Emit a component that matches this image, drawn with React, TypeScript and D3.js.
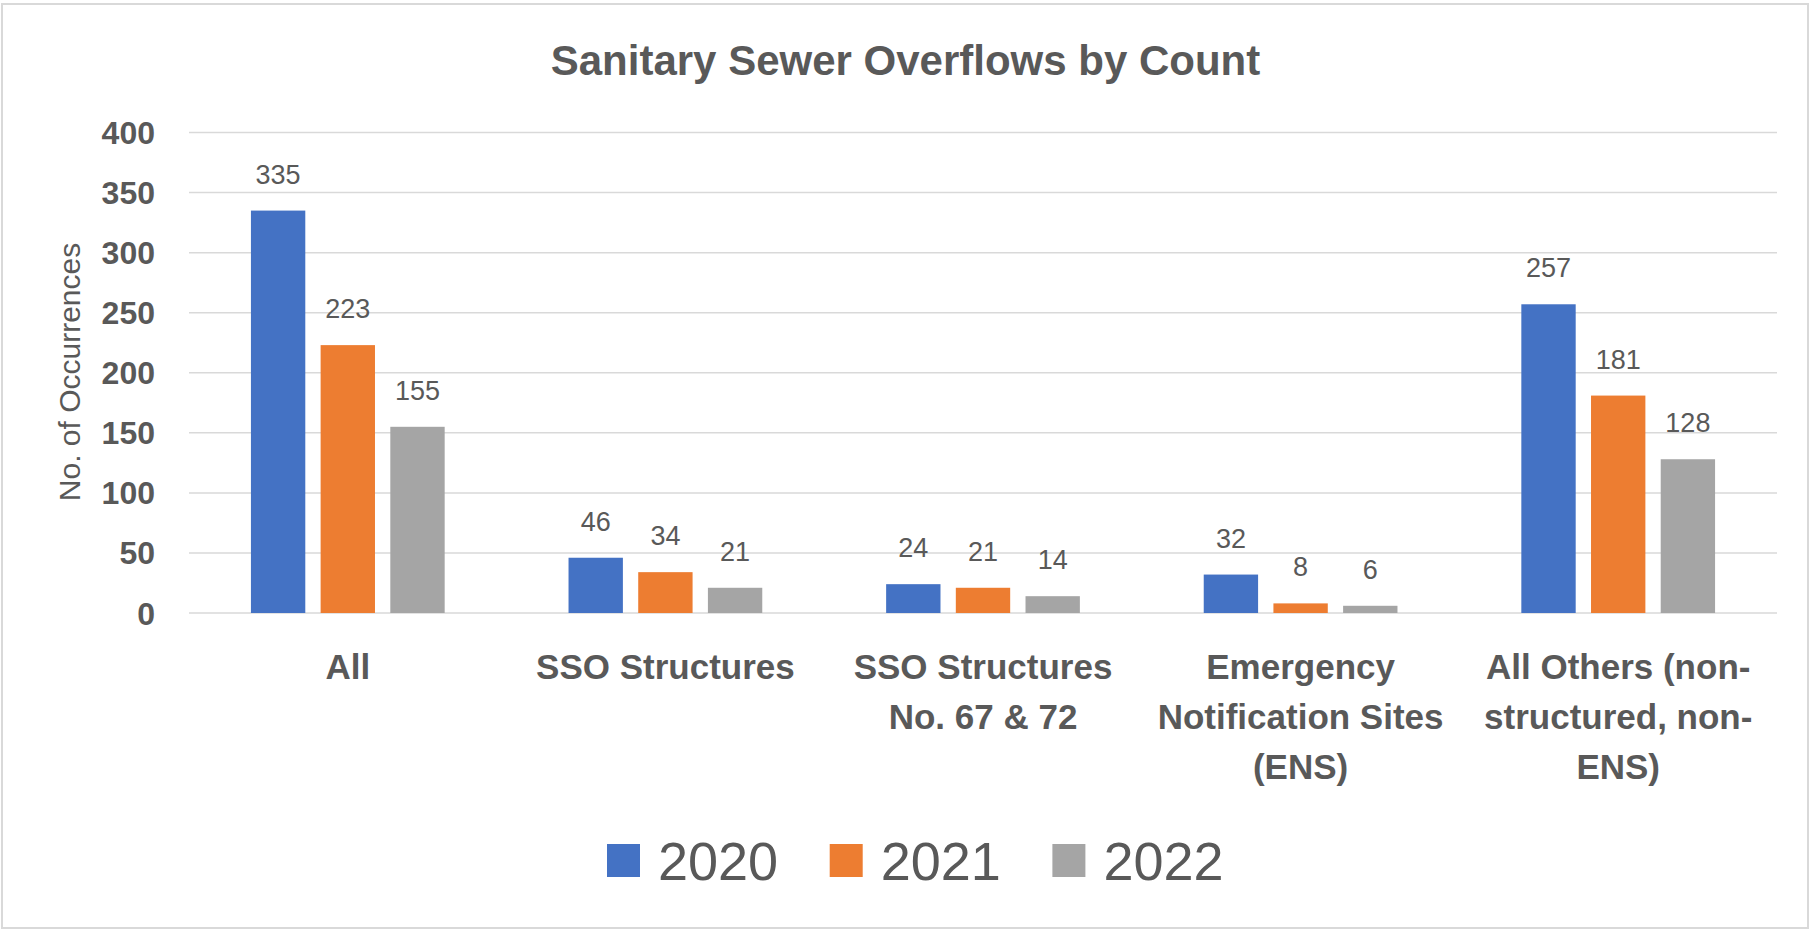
import React from 'react';
import * as d3 from 'd3';

const categories = [
	['All'],
	['SSO Structures'],
	['SSO Structures', 'No. 67 & 72'],
	['Emergency', 'Notification Sites', '(ENS)'],
	['All Others (non-', 'structured, non-', 'ENS)'],
];
const years = ['2020', '2021', '2022'];
const values2020 = [335, 46, 24, 32, 257];
const values2021 = [223, 34, 21, 8, 181];
const values2022 = [155, 21, 14, 6, 128];
const yTicks = [0, 50, 100, 150, 200, 250, 300, 350, 400];

const colours = ['#4472C4', '#ED7D31', '#A5A5A5'];
const textColour = '#595959';
const font = '"Liberation Sans", Arial, sans-serif';

const App = () => {
	const width = 1812,
		height = 930,
		series = [values2020, values2021, values2022],
		catKeys = categories.map((c) => c.join(' '));

	const x0 = d3.scaleBand().domain(catKeys).range([189, 1777]).padding(0),
		groupWidth = x0.bandwidth() * 0.61,
		x1 = d3
			.scaleBand()
			.domain(years)
			.range([-groupWidth / 2, groupWidth / 2])
			.paddingInner(0.22),
		y = d3.scaleLinear().domain([0, 400]).range([613, 132.5]);

	const [plotLeft, plotRight] = x0.range();

	return (
		<svg
			width={width}
			height={height}
			style={{ position: 'absolute', left: 0, top: 0, fontFamily: font }}
		>
			<rect x={0} y={0} width={width} height={height} fill="#fff" />
			<rect x={2} y={4} width={1806} height={924} fill="none" stroke="#d9d9d9" strokeWidth={2} />

			<text x={905.5} y={75} textAnchor="middle" fontSize={42} fontWeight="bold" fill={textColour}>
				Sanitary Sewer Overflows by Count
			</text>

			{yTicks.map((t) => (
				<g key={t}>
					<line x1={plotLeft} x2={plotRight} y1={y(t)} y2={y(t)} stroke="#d9d9d9" strokeWidth={1.5} />
					<text
						x={155}
						y={y(t)}
						dy="0.36em"
						textAnchor="end"
						fontSize={32}
						fontWeight="bold"
						fill={textColour}
					>
						{t}
					</text>
				</g>
			))}

			<text
				transform="translate(80 372) rotate(-90)"
				textAnchor="middle"
				fontSize={30}
				fill={textColour}
			>
				No. of Occurrences
			</text>

			{catKeys.map((key, i) => {
				const cx = (x0(key) as number) + x0.bandwidth() / 2;
				return (
					<g key={key} transform={`translate(${cx} 0)`}>
						{series.map((vals, s) => {
							const bx = x1(years[s]) as number,
								v = vals[i];
							return (
								<g key={years[s]}>
									<rect
										x={bx}
										y={y(v)}
										width={x1.bandwidth()}
										height={y(0) - y(v)}
										fill={colours[s]}
									/>
									<text
										x={bx + x1.bandwidth() / 2}
										y={y(v) - 27}
										textAnchor="middle"
										fontSize={27}
										fill={textColour}
									>
										{v}
									</text>
								</g>
							);
						})}
						<text textAnchor="middle" fontSize={35} fontWeight="bold" fill={textColour}>
							{categories[i].map((line, l) => (
								<tspan key={l} x={0} y={679 + l * 50}>
									{line}
								</tspan>
							))}
						</text>
					</g>
				);
			})}

			{years.map((yr, s) => {
				const lx = 607 + s * 222.7;
				return (
					<g key={yr}>
						<rect x={lx} y={844} width={33} height={33} fill={colours[s]} />
						<text x={lx + 51} y={880} fontSize={54} fill={textColour}>
							{yr}
						</text>
					</g>
				);
			})}
		</svg>
	);
};

export default App;
